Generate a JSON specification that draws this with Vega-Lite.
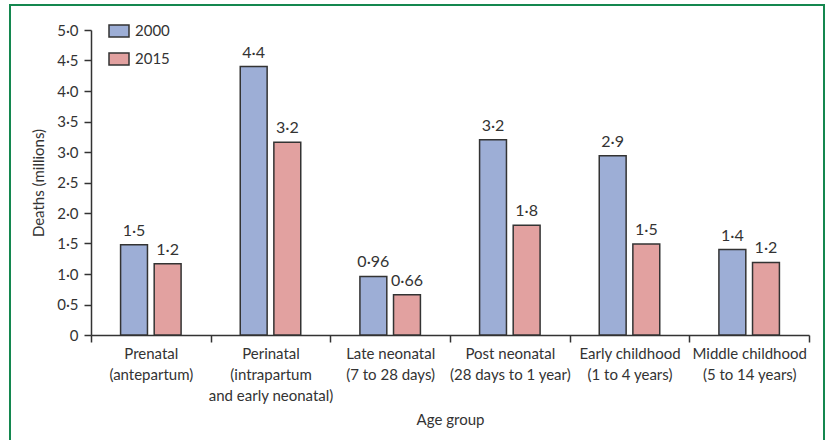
{
  "$schema": "https://vega.github.io/schema/vega-lite/v6.json",
  "description": "Deaths by age group, 2000 and 2015",
  "width": 814,
  "height": 460,
  "autosize": {"type": "none"},
  "padding": {"left": 10, "top": 5, "right": 3, "bottom": 0},
  "data": {
    "values": [
      {"group": "Prenatal|(antepartum)", "year": "2000", "deaths": 1.48, "label": "1·5"},
      {"group": "Prenatal|(antepartum)", "year": "2015", "deaths": 1.17, "label": "1·2"},
      {"group": "Perinatal|(intrapartum|and early neonatal)", "year": "2000", "deaths": 4.4, "label": "4·4"},
      {"group": "Perinatal|(intrapartum|and early neonatal)", "year": "2015", "deaths": 3.16, "label": "3·2"},
      {"group": "Late neonatal|(7 to 28 days)", "year": "2000", "deaths": 0.96, "label": "0·96"},
      {"group": "Late neonatal|(7 to 28 days)", "year": "2015", "deaths": 0.66, "label": "0·66"},
      {"group": "Post neonatal|(28 days to 1 year)", "year": "2000", "deaths": 3.2, "label": "3·2"},
      {"group": "Post neonatal|(28 days to 1 year)", "year": "2015", "deaths": 1.8, "label": "1·8"},
      {"group": "Early childhood|(1 to 4 years)", "year": "2000", "deaths": 2.94, "label": "2·9"},
      {"group": "Early childhood|(1 to 4 years)", "year": "2015", "deaths": 1.49, "label": "1·5"},
      {"group": "Middle childhood|(5 to 14 years)", "year": "2000", "deaths": 1.4, "label": "1·4"},
      {"group": "Middle childhood|(5 to 14 years)", "year": "2015", "deaths": 1.19, "label": "1·2"}
    ]
  },
  "encoding": {
    "x": {
      "field": "group",
      "type": "nominal",
      "sort": null,
      "scale": {"range": [81, 799], "paddingInner": 0, "paddingOuter": 0},
      "axis": {
        "orient": "bottom",
        "offset": -130,
        "title": "Age group",
        "titleFontSize": 15,
        "titleFontWeight": "normal",
        "titleColor": "#333",
        "titlePadding": 9,
        "labelAngle": 0,
        "labelExpr": "split(datum.label, '|')",
        "labelBaseline": "top",
        "labelLineHeight": 21,
        "labelFontSize": 15,
        "labelColor": "#333",
        "labelPadding": 4,
        "tickBand": "extent",
        "tickSize": 7,
        "tickColor": "#333",
        "tickWidth": 1.5,
        "domainColor": "#333",
        "domainWidth": 1.5
      }
    },
    "xOffset": {
      "field": "year",
      "type": "nominal",
      "scale": {"paddingInner": 0.2, "paddingOuter": 0.88}
    },
    "y": {
      "field": "deaths",
      "type": "quantitative",
      "scale": {"domain": [0, 5], "range": [330, 25], "nice": false},
      "axis": {
        "orient": "left",
        "offset": -81,
        "values": [0, 0.5, 1, 1.5, 2, 2.5, 3, 3.5, 4, 4.5, 5],
        "labelExpr": "datum.value == 0 ? '0' : replace(format(datum.value, '.1f'), '.', '·')",
        "grid": false,
        "title": "Deaths (millions)",
        "titleFontSize": 15,
        "titleFontWeight": "normal",
        "titleColor": "#333",
        "titlePadding": 10,
        "labelFontSize": 15,
        "labelColor": "#333",
        "labelPadding": 6,
        "tickSize": 7,
        "tickColor": "#333",
        "tickWidth": 1.5,
        "domainColor": "#333",
        "domainWidth": 1.5
      }
    }
  },
  "layer": [
    {
      "mark": {"type": "bar", "stroke": "#333", "strokeWidth": 1.5, "opacity": 1},
      "encoding": {
        "color": {
          "field": "year",
          "type": "nominal",
          "scale": {"domain": ["2000", "2015"], "range": ["#9daed6", "#e2a1a0"]},
          "legend": {
            "orient": "none",
            "legendX": 98,
            "legendY": 15,
            "title": null,
            "symbolType": "M-1,-0.6H1V0.6H-1Z",
            "symbolSize": 400,
            "symbolStrokeColor": "#333",
            "symbolStrokeWidth": 1.5,
            "symbolOpacity": 1,
            "labelFontSize": 15,
            "labelColor": "#333",
            "labelOffset": 5,
            "rowPadding": 8
          }
        }
      }
    },
    {
      "mark": {"type": "text", "baseline": "alphabetic", "dy": -9, "fontSize": 16, "color": "#333"},
      "encoding": {
        "text": {"field": "label", "type": "nominal"}
      }
    }
  ],
  "config": {
    "font": "Lato",
    "background": "white",
    "view": {"stroke": "#14874f", "strokeWidth": 2}
  }
}
